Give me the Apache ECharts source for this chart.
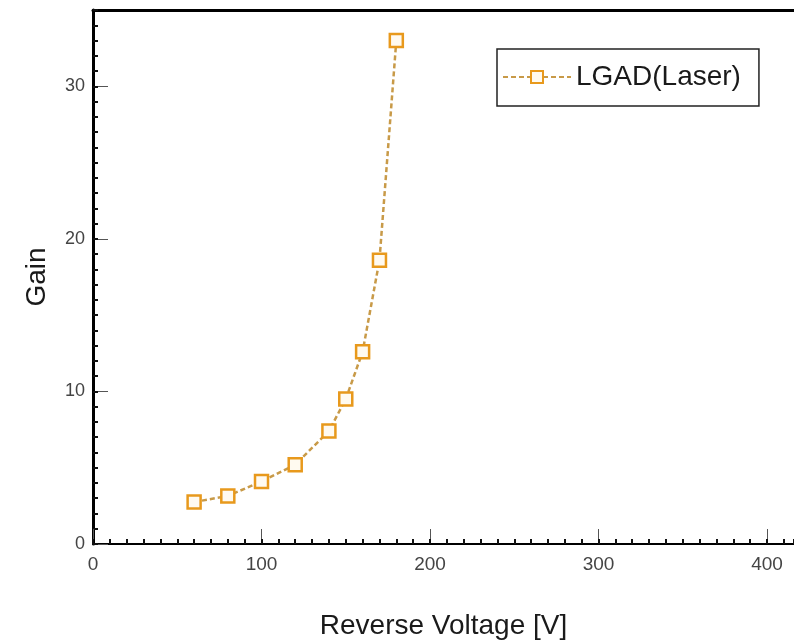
<!DOCTYPE html>
<html>
<head>
<meta charset="utf-8">
<script src="https://cdn.jsdelivr.net/npm/echarts@6/dist/echarts.min.js"></script>
<style>
  html, body { margin: 0; padding: 0; background: #fff; }
  #chart { width: 794px; height: 642px; }
</style>
</head>
<body>
<div id="chart"></div>
<script>
// data
var voltage = [60, 80, 100, 120, 140, 150, 160, 170, 180];
var gain = [2.75, 3.15, 4.1, 5.2, 7.4, 9.5, 12.6, 18.6, 33.0];
var seriesName = 'LGAD(Laser)';

var points = voltage.map(function (v, i) { return [v, gain[i]]; });

var myChart = echarts.init(document.getElementById('chart'));
var option = {
  backgroundColor: '#fff',
  animation: false,
  textStyle: { fontFamily: 'Liberation Sans, Arial, sans-serif' },
  grid: { left: 93, right: 0, top: 10, bottom: 98, containLabel: false, outerBoundsMode: 'none' },
  legend: {
    left: 497,
    top: 49,
    padding: [14, 18, 15, 5],
    borderColor: '#222',
    borderWidth: 1.5,
    itemWidth: 68,
    itemHeight: 15,
    itemGap: 12,
    textStyle: { fontSize: 28, color: '#1a1a1a' },
    data: [seriesName]
  },
  xAxis: [
    {
      type: 'value', min: 0, max: 416, interval: 100, position: 'bottom',
      name: 'Reverse Voltage [V]', nameLocation: 'middle', nameGap: 68,
      nameTextStyle: { fontSize: 28, color: '#1a1a1a' },
      axisLine: { lineStyle: { color: '#000', width: 2 } },
      axisTick: { inside: true, length: 15, lineStyle: { color: '#555', width: 1 } },
      axisLabel: { fontSize: 19, color: '#444', margin: 11, showMaxLabel: false },
      splitLine: { show: false }
    },
    {
      // minor ticks every 10 V
      type: 'value', min: 0, max: 416, interval: 10, position: 'bottom',
      axisLine: { show: false },
      axisTick: { inside: true, length: 5, lineStyle: { color: '#111', width: 2 } },
      axisLabel: { show: false },
      splitLine: { show: false }
    },
    {
      // top frame
      type: 'value', min: 0, max: 416, position: 'top',
      axisLine: { lineStyle: { color: '#000', width: 3 } },
      axisTick: { show: false },
      axisLabel: { show: false },
      splitLine: { show: false }
    }
  ],
  yAxis: [
    {
      type: 'value', min: 0, max: 35, interval: 10, position: 'left',
      name: 'Gain', nameLocation: 'middle', nameGap: 42,
      nameTextStyle: { fontSize: 28, color: '#1a1a1a' },
      axisLine: { show: true, lineStyle: { color: '#000', width: 3 } },
      axisTick: { inside: true, length: 15, lineStyle: { color: '#555', width: 1 } },
      axisLabel: { fontSize: 18, color: '#444', margin: 8, showMaxLabel: false },
      splitLine: { show: false }
    },
    {
      // minor ticks every 1
      type: 'value', min: 0, max: 35, interval: 1, position: 'left',
      axisLine: { show: false },
      axisTick: { inside: true, length: 5, lineStyle: { color: '#111', width: 2 } },
      axisLabel: { show: false },
      splitLine: { show: false }
    }
  ],
  series: [
    {
      name: seriesName,
      type: 'line',
      xAxisIndex: 0,
      yAxisIndex: 0,
      data: points,
      symbol: 'rect',
      symbolSize: 13,
      lineStyle: { color: '#c89a48', width: 2.5, type: [5, 3] },
      itemStyle: { color: '#fffaf0', borderColor: '#e8991c', borderWidth: 2.5 }
    }
  ]
};
myChart.setOption(option);
</script>
</body>
</html>
